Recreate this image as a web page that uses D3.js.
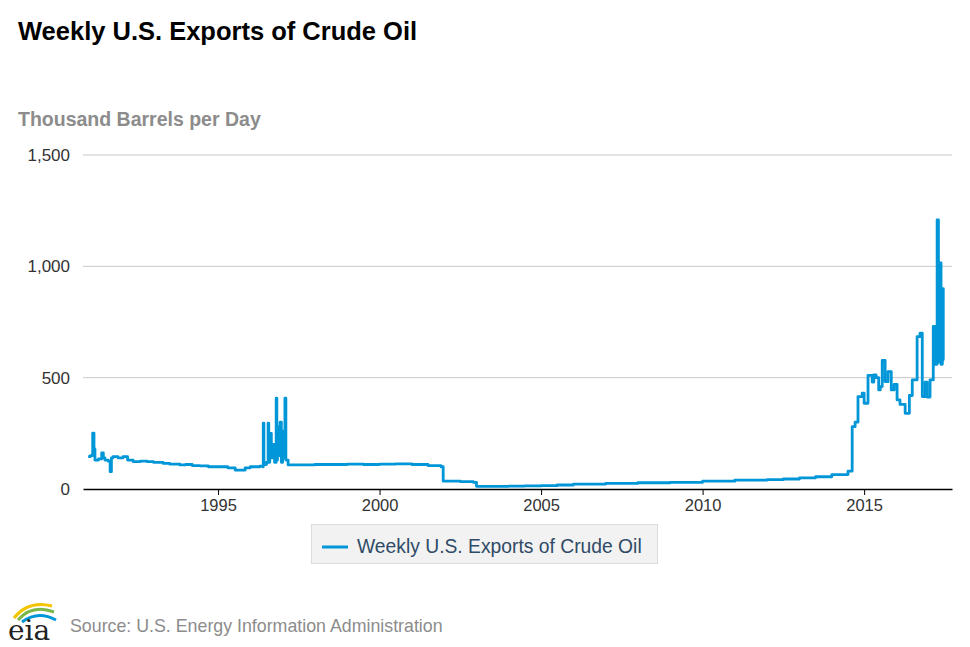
<!DOCTYPE html>
<html><head><meta charset="utf-8">
<script src="https://cdn.jsdelivr.net/npm/d3@7"></script>
<style>body{margin:0;background:#fff;font-family:Arial,"Liberation Sans",sans-serif}</style>
</head><body><svg id="c" width="970" height="647"></svg>
<script>
const years = [1990.98,1991.05,1991.12,1991.16,1991.19,1991.3,1991.4,1991.45,1991.5,1991.6,1991.66,1991.7,1991.75,1991.9,1992.06,1992.2,1992.37,1992.6,1992.8,1993.0,1993.3,1993.5,1993.82,1994.0,1994.2,1994.44,1994.7,1995.0,1995.3,1995.53,1995.84,1996.0,1996.3,1996.38,1996.4,1996.42,1996.5,1996.55,1996.57,1996.6,1996.65,1996.7,1996.75,1996.8,1996.82,1996.84,1996.88,1996.92,1996.96,1997.0,1997.04,1997.07,1997.1,1997.17,1997.5,1998.0,1998.5,1999.0,1999.5,2000.0,2000.5,2001.0,2001.5,2001.9,2001.97,2002.5,2002.9,2003.0,2003.5,2004.0,2004.5,2005.0,2005.5,2006.0,2007.0,2008.0,2009.0,2010.0,2011.0,2012.0,2012.5,2013.0,2013.5,2014.0,2014.5,2014.63,2014.72,2014.81,2014.94,2015.0,2015.12,2015.25,2015.3,2015.37,2015.45,2015.5,2015.56,2015.65,2015.74,2015.84,2015.93,2016.02,2016.11,2016.27,2016.4,2016.49,2016.64,2016.73,2016.8,2016.89,2016.95,2017.04,2017.14,2017.2,2017.26,2017.3,2017.35,2017.38,2017.42,2017.45,2017.48,2017.51,2017.54];
const values = [145,150,251,180,130,135,162,140,130,125,78,140,145,140,145,130,123,125,123,120,115,112,108,110,105,104,100,100,95,85,95,100,103,100,296,110,120,296,120,250,140,200,120,408,130,280,150,300,120,260,140,408,130,108,108,110,110,112,110,112,113,110,105,100,35,33,30,12,12,13,14,15,18,22,25,28,30,35,40,42,45,50,55,65,80,280,300,415,430,385,510,480,512,500,445,460,577,482,527,445,470,400,380,340,420,490,684,700,415,480,413,490,730,560,1209,570,1015,560,900,580];
const yTicks = [0,500,1000,1500];
const xTicks = [1995,2000,2005,2010,2015];

const svg = d3.select('#c');
const L=83,R=952,T=155,B=489;
const x = d3.scaleLinear().domain([1990.82,2017.72]).range([L,R]);
const y = d3.scaleLinear().domain([0,1500]).range([B,T]);

svg.append('text').attr('x',18).attr('y',40).attr('font-size',25.5).attr('font-weight','bold').attr('fill','#000').text('Weekly U.S. Exports of Crude Oil');
svg.append('text').attr('x',18).attr('y',126).attr('font-size',19.5).attr('font-weight','bold').attr('fill','#8c8c8c').text('Thousand Barrels per Day');

svg.selectAll('.g').data(yTicks.filter(d=>d>0)).enter().append('line')
 .attr('x1',L).attr('x2',R).attr('y1',d=>y(d)).attr('y2',d=>y(d)).attr('stroke','#c8c8c8').attr('stroke-width',1);
svg.selectAll('.yl').data(yTicks).enter().append('text')
 .attr('x',70).attr('y',d=>y(d)+6).attr('text-anchor','end').attr('font-size',17).attr('fill','#333').text(d3.format(','));

const xa = svg.append('g').attr('transform',`translate(0,${B})`)
 .call(d3.axisBottom(x).tickValues(xTicks).tickFormat(d3.format('d')).tickSize(6).tickSizeOuter(0));
xa.select('.domain').attr('stroke','#000').attr('stroke-width',1.5);
xa.selectAll('.tick line').attr('stroke','#000');
xa.selectAll('.tick text').attr('font-size',16.5).attr('fill','#333').attr('font-family','Arial,"Liberation Sans",sans-serif').attr('dy','0.8em');

svg.append('path').datum(years.map((d,i)=>[d,values[i]]))
 .attr('d',d3.line().x(d=>x(d[0])).y(d=>y(d[1])).curve(d3.curveStepAfter))
 .attr('fill','none').attr('stroke','#0096d7').attr('stroke-width',2.8).attr('stroke-linejoin','round');

svg.append('rect').attr('x',311.5).attr('y',524.5).attr('width',346).attr('height',39).attr('fill','#f2f2f2').attr('stroke','#dcdcdc');
svg.append('line').attr('x1',322).attr('x2',348).attr('y1',547).attr('y2',547).attr('stroke','#0096d7').attr('stroke-width',3);
svg.append('text').attr('x',357).attr('y',553).attr('font-size',19.3).attr('fill','#2f4a66').text('Weekly U.S. Exports of Crude Oil');

const lg = svg.append('g');
lg.append('path').attr('d','M14,618 Q28,600 52,606').attr('fill','none').attr('stroke','#f2c500').attr('stroke-width',3);
lg.append('path').attr('d','M18,620 Q32,604 54,612').attr('fill','none').attr('stroke','#7ab648').attr('stroke-width',3);
lg.append('path').attr('d','M22,622 Q38,610 56,620').attr('fill','none').attr('stroke','#0096d7').attr('stroke-width',3);
lg.append('text').attr('x',8).attr('y',640).attr('font-size',28).attr('font-family','"DejaVu Serif",serif').attr('fill','#222').text('eia');
svg.append('text').attr('x',70).attr('y',632).attr('font-size',17.8).attr('fill','#8c8c8c').text('Source: U.S. Energy Information Administration');
</script></body></html>
